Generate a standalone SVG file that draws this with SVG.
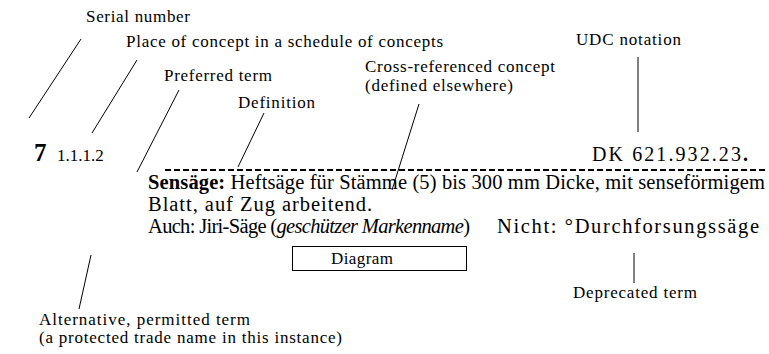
<svg xmlns="http://www.w3.org/2000/svg" width="769" height="354" viewBox="0 0 769 354">
  <style>
    text { font-family: 'Liberation Serif', 'Times New Roman', serif; fill: #000; }
    .lbl { font-size: 17px; }
    .main { font-size: 20.5px; }
    .num { font-size: 17px; }
    .lead { stroke: #000; stroke-width: 1; fill: none; }
  </style>
  <rect width="769" height="354" fill="#fff"/>

  <!-- entry: headword line, definition, synonyms -->
  <g id="entry">
    <text x="34" y="161" font-size="25" font-weight="bold">7</text>
    <text class="num" x="57" y="161">1.1.1.2</text>
    <text x="592" y="161" font-size="20" textLength="156">DK 621.932.23<tspan font-weight="bold">.</tspan></text>
    <line x1="165" y1="170" x2="768" y2="170" stroke="#000" stroke-width="2" stroke-dasharray="6 3"/>
    <text class="main" x="148" y="189" textLength="617"><tspan font-weight="bold">Sensäge:</tspan> Heftsäge für Stämme (5) bis 300 mm Dicke, mit senseförmigem</text>
    <text class="main" x="148" y="211" textLength="224">Blatt, auf Zug arbeitend.</text>
    <text class="main" x="148" y="233" textLength="322">Auch: Jiri-Säge (<tspan font-style="italic">geschützer Markenname</tspan>)</text>
    <text class="main" x="497" y="233" font-size="21.5px" textLength="262">Nicht: °Durchforsungssäge</text>
  </g>

  <g id="diagram-box">
    <rect x="292.5" y="246.5" width="174" height="24" fill="none" stroke="#000" stroke-width="1"/>
    <text class="lbl" x="362" y="264" text-anchor="middle" textLength="62">Diagram</text>
  </g>

  <!-- annotation labels -->
  <g id="label-serial"><text class="lbl" x="86" y="22" textLength="104">Serial number</text></g>
  <g id="label-place"><text class="lbl" x="126" y="47" textLength="317">Place of concept in a schedule of concepts</text></g>
  <g id="label-udc"><text class="lbl" x="576" y="45" textLength="105">UDC notation</text></g>
  <g id="label-preferred"><text class="lbl" x="164" y="81" textLength="108">Preferred term</text></g>
  <g id="label-crossref">
    <text class="lbl" x="365" y="72" textLength="190">Cross-referenced concept</text>
    <text class="lbl" x="365" y="91" textLength="148">(defined elsewhere)</text>
  </g>
  <g id="label-definition"><text class="lbl" x="238" y="108" textLength="77">Definition</text></g>
  <g id="label-alternative">
    <text class="lbl" x="39" y="325" textLength="211">Alternative, permitted term</text>
    <text class="lbl" x="39" y="343" textLength="303">(a protected trade name in this instance)</text>
  </g>
  <g id="label-deprecated"><text class="lbl" x="573" y="298" textLength="124">Deprecated term</text></g>

  <!-- leader lines -->
  <g id="connectors">
    <line class="lead" x1="81" y1="39" x2="29" y2="118"/>
    <line class="lead" x1="137" y1="60" x2="92" y2="133"/>
    <line class="lead" x1="179" y1="90" x2="137" y2="172"/>
    <line class="lead" x1="264" y1="113" x2="238" y2="167"/>
    <line class="lead" x1="419" y1="104" x2="392" y2="190"/>
    <line class="lead" x1="638" y1="57" x2="638" y2="132"/>
    <line class="lead" x1="91" y1="255" x2="79" y2="309"/>
    <line class="lead" x1="634" y1="253" x2="634" y2="283"/>
  </g>
</svg>
